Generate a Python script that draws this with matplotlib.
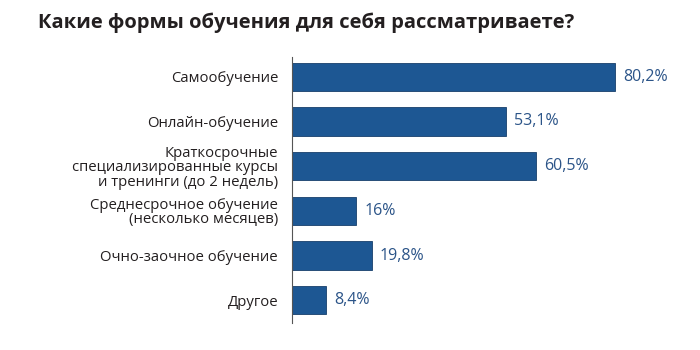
import matplotlib
matplotlib.use("Agg")
import matplotlib.pyplot as plt

plt.rcParams['font.family'] = ['Open Sans', 'DejaVu Sans']

# данные
categories = [
    "Самообучение",
    "Онлайн-обучение",
    "Краткосрочные\nспециализированные курсы\nи тренинги (до 2 недель)",
    "Среднесрочное обучение\n(несколько месяцев)",
    "Очно-заочное обучение",
    "Другое",
]
values = [80.2, 53.1, 60.5, 16.0, 19.8, 8.4]
value_labels = ["80,2%", "53,1%", "60,5%", "16%", "19,8%", "8,4%"]

bar_color = "#1d5793"
text_color = "#231f20"
value_color = "#2b5488"

fig = plt.figure(figsize=(7, 3.5), dpi=100)
ax = fig.add_axes([0.417, 0.077, 0.576, 0.76])

ypos = list(range(len(categories)))
ax.barh(ypos, values, height=0.63, color=bar_color, edgecolor="#173f6b", linewidth=0.6)

for y, v, lab in zip(ypos, values, value_labels):
    ax.text(v + 2.0, y, lab, va="center", ha="left", fontsize=11.5,
            fontweight="medium", color=value_color)

ax.set_xlim(0, 100)
ax.set_ylim(5.51, -0.44)
ax.set_yticks(ypos)
ax.set_yticklabels(categories, fontsize=10.7, fontweight="medium",
                   color=text_color, linespacing=0.95)
ax.tick_params(axis="y", length=0, pad=10)
ax.set_xticks([])
for s in ["top", "right", "bottom"]:
    ax.spines[s].set_visible(False)
ax.spines["left"].set_color("#555555")
ax.spines["left"].set_linewidth(0.8)

fig.text(0.055, 0.935, "Какие формы обучения для себя рассматриваете?",
         fontsize=14.5, fontweight="bold", color=text_color, va="center", ha="left")

fig.savefig("out.png", dpi=100)
